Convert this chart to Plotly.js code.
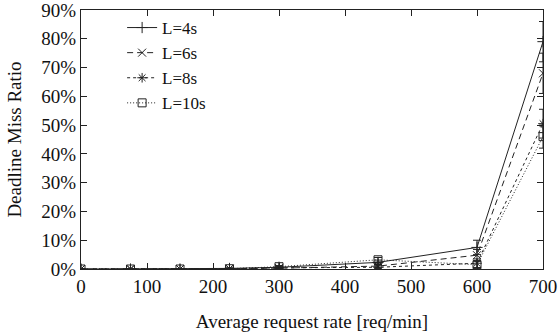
<!DOCTYPE html>
<html>
<head>
<meta charset="utf-8">
<script src="https://cdn.plot.ly/plotly-3.0.1.min.js"></script>
<style>
  html, body { margin: 0; padding: 0; background: #fff; }
  #chart { width: 560px; height: 332px; }
</style>
</head>
<body>
<div id="chart"></div>
<script>
// Request rates (req/min) and deadline miss ratio (%) per lateness bound L
const rates = [0, 75, 150, 225, 300, 450, 600, 700];
const seriesNames = ['L=4s', 'L=6s', 'L=8s', 'L=10s'];
const missL4  = [0, 0, 0, 0.2, 0.6, 2.3, 7.5, 79];
const missL6  = [0, 0, 0, 0.1, 0.3, 1.0, 4.8, 68];
const missL8  = [0, 0, 0, 0.1, 0.4, 0.6, 2.0, 50.5];
const missL10 = [0, 0, 0, 0.1, 0.8, 3.2, 1.5, 46];
const errL4  = [0, 0, 0, 0.2, 0.4, 0.8, 2.5, 7];
const errL6  = [0, 0, 0, 0.1, 0.3, 0.6, 2.0, 7];
const errL8  = [0, 0, 0, 0.1, 0.3, 0.5, 1.5, 5];
const errL10 = [0, 0, 0, 0.1, 0.4, 0.8, 1.2, 4];
const xTicks = [0, 100, 200, 300, 400, 500, 600, 700];
const yTicks = [0, 10, 20, 30, 40, 50, 60, 70, 80, 90];
const yTickText = yTicks.map(v => v + '%');

const values = [missL4, missL6, missL8, missL10];
const errors = [errL4, errL6, errL8, errL10];
const symbols = ['cross-thin-open', 'x-thin-open', 'asterisk-open', 'square-open'];
const dashes = ['solid', '6px,4px', '3px,3px', '1px,2px'];
const ink = '#222';

const traces = seriesNames.map((name, i) => ({
  x: rates,
  y: values[i],
  name: name,
  type: 'scatter',
  mode: 'lines+markers',
  line: { color: ink, width: 1, dash: dashes[i] },
  marker: { symbol: symbols[i], size: 8, color: ink, line: { color: ink, width: 1 } },
  error_y: { type: 'data', array: errors[i], visible: true, color: ink, thickness: 1, width: 4 }
}));

const axisFont = { family: 'Liberation Serif, Times New Roman, serif', size: 19, color: '#111' };

const layout = {
  width: 560,
  height: 332,
  margin: { l: 81, r: 17, t: 10, b: 63 },
  paper_bgcolor: '#fff',
  plot_bgcolor: '#fff',
  font: axisFont,
  showlegend: true,
  legend: {
    x: 0.089, y: 1.0, xanchor: 'left', yanchor: 'top',
    bgcolor: 'rgba(0,0,0,0)', borderwidth: 0,
    font: { family: 'Liberation Serif, serif', size: 17, color: '#111' },
    tracegroupgap: 0
  },
  xaxis: {
    range: [0, 700],
    tickvals: xTicks,
    ticks: 'inside', ticklen: 6, tickcolor: ink,
    showline: true, linecolor: ink, linewidth: 1, mirror: 'ticks',
    showgrid: false, zeroline: false, automargin: false,
    ticklabeloverflow: 'allow',
    tickfont: axisFont,
    title: { text: 'Average request rate [req/min]', font: axisFont, standoff: 18 }
  },
  yaxis: {
    range: [0, 90],
    tickvals: yTicks,
    ticktext: yTickText,
    ticks: 'inside', ticklen: 6, tickcolor: ink,
    showline: true, linecolor: ink, linewidth: 1, mirror: 'ticks',
    showgrid: false, zeroline: false, automargin: false,
    ticklabeloverflow: 'allow',
    tickfont: axisFont,
    title: { text: 'Deadline Miss Ratio', font: axisFont, standoff: 14 }
  }
};

Plotly.newPlot('chart', traces, layout, { displayModeBar: false, staticPlot: true });
</script>
</body>
</html>
